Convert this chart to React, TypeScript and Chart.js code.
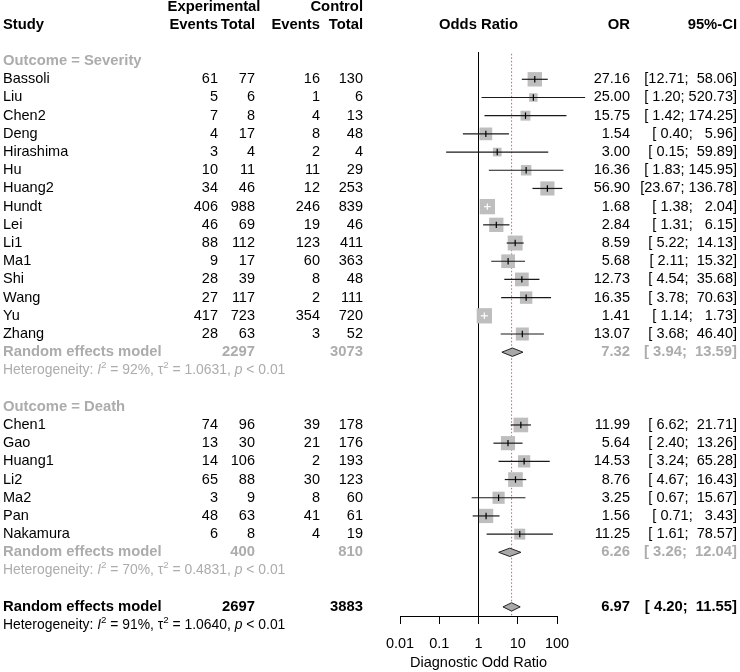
import React, { useEffect, useRef } from "react";
import { Chart, registerables } from "chart.js";

Chart.register(...registerables);

// ---------------- data ----------------
const subgroupLabels = ["Outcome = Severity", "Outcome = Death"];
const studyNames = [
  "Bassoli", "Liu", "Chen2", "Deng", "Hirashima", "Hu", "Huang2", "Hundt", "Lei", "Li1", "Ma1", "Shi", "Wang", "Yu", "Zhang",
  "Chen1", "Gao", "Huang1", "Li2", "Ma2", "Pan", "Nakamura",
];
const studySubgroup = [0, 0, 0, 0, 0, 0, 0, 0, 0, 0, 0, 0, 0, 0, 0, 1, 1, 1, 1, 1, 1, 1];
const expEvents = [61, 5, 7, 4, 3, 10, 34, 406, 46, 88, 9, 28, 27, 417, 28, 74, 13, 14, 65, 3, 48, 6];
const expTotal = [77, 6, 8, 17, 4, 11, 46, 988, 69, 112, 17, 39, 117, 723, 63, 96, 30, 106, 88, 9, 63, 8];
const ctrlEvents = [16, 1, 4, 8, 2, 11, 12, 246, 19, 123, 60, 8, 2, 354, 3, 39, 21, 2, 30, 8, 41, 4];
const ctrlTotal = [130, 6, 13, 48, 4, 29, 253, 839, 46, 411, 363, 48, 111, 720, 52, 178, 176, 193, 123, 60, 61, 19];
const oddsRatio = [27.16, 25.0, 15.75, 1.54, 3.0, 16.36, 56.9, 1.68, 2.84, 8.59, 5.68, 12.73, 16.35, 1.41, 13.07, 11.99, 5.64, 14.53, 8.76, 3.25, 1.56, 11.25];
const ciLower = [12.71, 1.2, 1.42, 0.4, 0.15, 1.83, 23.67, 1.38, 1.31, 5.22, 2.11, 4.54, 3.78, 1.14, 3.68, 6.62, 2.4, 3.24, 4.67, 0.67, 0.71, 1.61];
const ciUpper = [58.06, 520.73, 174.25, 5.96, 59.89, 145.95, 136.78, 2.04, 6.15, 14.13, 15.32, 35.68, 70.63, 1.73, 46.4, 21.71, 13.26, 65.28, 16.43, 15.67, 3.43, 78.57];
const weightPct = [5.5, 1.9, 2.6, 4.3, 2.0, 2.9, 5.3, 6.2, 5.4, 5.9, 5.0, 5.0, 4.1, 6.2, 4.5, 5.7, 5.3, 4.0, 5.7, 3.9, 5.4, 3.2];

const subgroupExpTotal = [2297, 400];
const subgroupCtrlTotal = [3073, 810];
const subgroupOR = [7.32, 6.26];
const subgroupLower = [3.94, 3.26];
const subgroupUpper = [13.59, 12.04];
const subgroupI2 = [92, 70];
const subgroupTau2 = ["1.0631", "0.4831"];
const subgroupP = ["< 0.01", "< 0.01"];

const overallExpTotal = 2697;
const overallCtrlTotal = 3883;
const overallOR = 6.97;
const overallLower = 4.2;
const overallUpper = 11.55;
const overallI2 = 91;
const overallTau2 = "1.0640";
const overallP = "< 0.01";

const xTickValues = [0.01, 0.1, 1, 10, 100];
const xTickLabels = ["0.01", "0.1", "1", "10", "100"];
const xAxisTitle = "Diagnostic Odd Ratio";

// ---------------- style ----------------
const FONT = '"Liberation Sans", Arial, Helvetica, sans-serif';
const FS = 14.5;
const FS_BOLD = 14.8;
const FS_HET = 13.9;
const GREY_TXT = "#acacac";
const SQUARE_COL = "#bebebe";
const DIAMOND_COL = "#a9a9a9";
const SQ_K = 6.14;

const fmt2 = (v: number) => v.toFixed(2);
const fmtCI = (lo: number, hi: number) => "[" + fmt2(lo).padStart(5) + "; " + fmt2(hi).padStart(6) + "]";

export default function App() {
  const ref = useRef<HTMLCanvasElement>(null);

  useEffect(() => {
    document.body.style.margin = "0";
    const canvas = ref.current;
    if (!canvas) return;

    // row layout
    const studyRow: number[] = [];
    const headRow: number[] = [];
    const remRow: number[] = [];
    const hetRow: number[] = [];
    let r = 0;
    subgroupLabels.forEach((_, g) => {
      headRow[g] = r++;
      studyNames.forEach((_, i) => {
        if (studySubgroup[i] === g) studyRow[i] = r++;
      });
      remRow[g] = r++;
      hetRow[g] = r++;
      r++;
    });
    const overallRow = r;
    const overallHetRow = r + 1;
    const yMin = -0.5;
    const yMax = overallRow + 0.5;

    const side = weightPct.map((w) => SQ_K * Math.sqrt(w));

    const inside = (chart: any, i: number) => {
      const xs = chart.scales && chart.scales.x;
      if (!xs || !isFinite(xs.getPixelForValue(1))) return false;
      const w = xs.getPixelForValue(ciUpper[i]) - xs.getPixelForValue(ciLower[i]);
      return w < side[i];
    };

    const datasets: any[] = [];
    // reference line at OR = 1
    datasets.push({
      data: [{ x: 1, y: yMin }, { x: 1, y: yMax }],
      showLine: true, borderColor: "#000", borderWidth: 1, pointRadius: 0, order: 20,
    });
    // overall effect dotted line
    datasets.push({
      data: [{ x: overallOR, y: yMin + 0.1 }, { x: overallOR, y: yMax }],
      showLine: true, borderColor: "rgba(255,30,30,0.8)", borderWidth: 1, borderDash: [1.5, 2], pointRadius: 0, order: 19,
    });
    // squares
    datasets.push({
      data: oddsRatio.map((v, i) => ({ x: v, y: studyRow[i] })),
      showLine: false, pointStyle: "rect",
      pointRadius: side.map((s) => s / Math.SQRT2),
      backgroundColor: SQUARE_COL, borderColor: SQUARE_COL, borderWidth: 0, order: 10, clip: false,
    });
    // CI lines
    studyNames.forEach((_, i) => {
      datasets.push({
        data: [{ x: ciLower[i], y: studyRow[i] }, { x: ciUpper[i], y: studyRow[i] }],
        showLine: true, pointRadius: 0, borderWidth: 1.2,
        borderColor: (c: any) => (inside(c.chart, i) ? "#ffffff" : "#1a1a1a"),
        order: 6, clip: false,
      });
    });
    // estimate ticks
    datasets.push({
      data: oddsRatio.map((v, i) => ({ x: v, y: studyRow[i] })),
      showLine: false, pointStyle: "line", rotation: 90, pointRadius: 3.2, borderWidth: 1.2,
      borderColor: (c: any) => (c.dataIndex !== undefined && inside(c.chart, c.dataIndex) ? "#ffffff" : "#000000"),
      order: 4, clip: false,
    });
    // diamonds
    const diamond = (est: number, lo: number, hi: number, row: number) => {
      const h = 0.23;
      datasets.push({
        data: [
          { x: lo, y: row }, { x: est, y: row - h }, { x: hi, y: row }, { x: est, y: row + h }, { x: lo, y: row },
        ],
        showLine: true, pointRadius: 0, borderColor: "#222", borderWidth: 1,
        backgroundColor: DIAMOND_COL, fill: "shape", tension: 0, order: 8, clip: false,
      });
    };
    subgroupOR.forEach((v, g) => diamond(v, subgroupLower[g], subgroupUpper[g], remRow[g]));
    diamond(overallOR, overallLower, overallUpper, overallRow);

    const textPlugin = {
      id: "forestText",
      afterDraw(chart: any) {
        const ctx = chart.ctx;
        const ys = chart.scales.y;
        const xs = chart.scales.x;
        const Y = (row: number) => ys.getPixelForValue(row);
        ctx.save();
        ctx.textBaseline = "middle";
        const txt = (s: string, x: number, row: number, align: string, bold: boolean, color: string) => {
          ctx.font = bold ? `bold ${FS_BOLD}px ${FONT}` : `${FS}px ${FONT}`;
          ctx.fillStyle = color;
          ctx.textAlign = align;
          ctx.fillText(s, x, Y(row));
        };
        const het = (row: number, i2: number, tau2: string, p: string, color: string) => {
          const segs: [string, string, boolean][] = [
            ["Heterogeneity: ", "n", false],
            ["I", "i", false],
            ["2", "s", true],
            [` = ${i2}%, `, "n", false],
            ["\u03c4", "n", false],
            ["2", "s", true],
            [` = ${tau2}, `, "n", false],
            ["p", "i", false],
            [` ${p}`, "n", false],
          ];
          let cx = 3;
          const y = Y(row);
          ctx.textAlign = "left";
          ctx.fillStyle = color;
          for (const [t, st, sup] of segs) {
            ctx.font = st === "i" ? `italic ${FS_HET}px ${FONT}` : st === "s" ? `${FS_HET * 0.7}px ${FONT}` : `${FS_HET}px ${FONT}`;
            ctx.fillText(t, cx, sup ? y - FS_HET * 0.35 : y);
            cx += ctx.measureText(t).width;
          }
        };
        const cEE = 218, cET = 255, cCE = 320, cCT = 363, cOR = 630, cCI = 737;
        // headers
        txt("Experimental", 214, -3, "center", true, "#000");
        txt("Control", cCT, -3, "right", true, "#000");
        txt("Study", 3, -2, "left", true, "#000");
        txt("Events", cEE, -2, "right", true, "#000");
        txt("Total", cET, -2, "right", true, "#000");
        txt("Events", cCE, -2, "right", true, "#000");
        txt("Total", cCT, -2, "right", true, "#000");
        txt("Odds Ratio", (xs.getPixelForValue(xTickValues[0]) + xs.getPixelForValue(xTickValues[xTickValues.length - 1])) / 2, -2, "center", true, "#000");
        txt("OR", cOR, -2, "right", true, "#000");
        txt("95%-CI", cCI, -2, "right", true, "#000");

        subgroupLabels.forEach((lab, g) => {
          txt(lab, 3, headRow[g], "left", true, GREY_TXT);
          txt("Random effects model", 3, remRow[g], "left", true, GREY_TXT);
          txt(String(subgroupExpTotal[g]), cET, remRow[g], "right", true, GREY_TXT);
          txt(String(subgroupCtrlTotal[g]), cCT, remRow[g], "right", true, GREY_TXT);
          txt(fmt2(subgroupOR[g]), cOR, remRow[g], "right", true, GREY_TXT);
          txt(fmtCI(subgroupLower[g], subgroupUpper[g]), cCI, remRow[g], "right", true, GREY_TXT);
          het(hetRow[g], subgroupI2[g], subgroupTau2[g], subgroupP[g], GREY_TXT);
        });
        studyNames.forEach((name, i) => {
          const row = studyRow[i];
          txt(name, 3, row, "left", false, "#000");
          txt(String(expEvents[i]), cEE, row, "right", false, "#000");
          txt(String(expTotal[i]), cET, row, "right", false, "#000");
          txt(String(ctrlEvents[i]), cCE, row, "right", false, "#000");
          txt(String(ctrlTotal[i]), cCT, row, "right", false, "#000");
          txt(fmt2(oddsRatio[i]), cOR, row, "right", false, "#000");
          txt(fmtCI(ciLower[i], ciUpper[i]), cCI, row, "right", false, "#000");
        });
        txt("Random effects model", 3, overallRow, "left", true, "#000");
        txt(String(overallExpTotal), cET, overallRow, "right", true, "#000");
        txt(String(overallCtrlTotal), cCT, overallRow, "right", true, "#000");
        txt(fmt2(overallOR), cOR, overallRow, "right", true, "#000");
        txt(fmtCI(overallLower, overallUpper), cCI, overallRow, "right", true, "#000");
        het(overallHetRow, overallI2, overallTau2, overallP, "#000");
        ctx.restore();
      },
    };

    const chart = new Chart(canvas, {
      type: "scatter",
      data: { datasets },
      options: {
        animation: false,
        responsive: false,
        devicePixelRatio: 1,
        maintainAspectRatio: false,
        layout: { padding: { left: 400, right: 183, top: 52, bottom: 0 } },
        plugins: { legend: { display: false }, tooltip: { enabled: false } },
        events: [],
        scales: {
          x: {
            type: "logarithmic",
            min: xTickValues[0],
            max: xTickValues[xTickValues.length - 1],
            position: "bottom",
            afterBuildTicks: (s: any) => {
              s.ticks = xTickValues.map((v) => ({ value: v }));
            },
            afterFit: (s: any) => {
              s.height = 56;
            },
            ticks: {
              autoSkip: false,
              maxRotation: 0,
              padding: 11,
              color: "#000",
              font: { family: FONT, size: FS },
              callback: (v: any) => {
                const k = xTickValues.indexOf(Number(v));
                return k >= 0 ? xTickLabels[k] : "";
              },
            },
            grid: { drawOnChartArea: false, drawTicks: true, tickLength: 8, color: "#000", lineWidth: 1 },
            border: { display: true, color: "#000", width: 1 },
            title: {
              display: true,
              text: xAxisTitle,
              color: "#000",
              font: { family: FONT, size: FS },
              padding: { top: 0, bottom: 0 },
            },
          },
          y: {
            type: "linear",
            min: yMin,
            max: yMax,
            reverse: true,
            display: false,
          },
        },
      },
      plugins: [textPlugin],
    } as any);

    return () => chart.destroy();
  }, []);

  return <canvas ref={ref} width={740} height={672} style={{ display: "block" }} />;
}
